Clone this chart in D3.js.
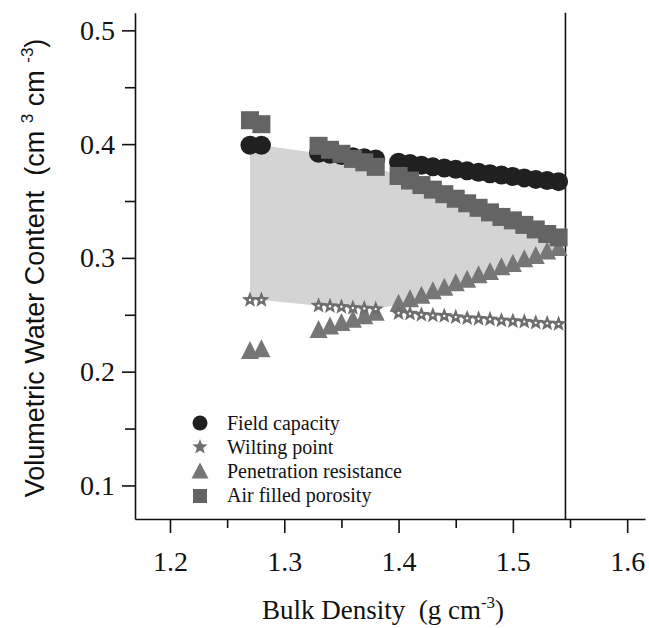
<!DOCTYPE html>
<html><head><meta charset="utf-8">
<script src="https://cdn.jsdelivr.net/npm/d3@7"></script>
<style>body{margin:0;background:#fff} text{white-space:pre}</style>
</head><body><svg id="c" width="649" height="628"></svg>
<script>
// ---- data ----
const bulkDensity = [1.27,1.28, 1.33,1.34,1.35,1.36,1.37,1.38, 1.40,1.41,1.42,1.43,1.44,1.45,1.46,1.47,1.48,1.49,1.50,1.51,1.52,1.53,1.54];
const fieldCapacity = [0.399,0.399, 0.392,0.391,0.390,0.389,0.388,0.387, 0.384,0.383,0.3815,0.380,0.379,0.3778,0.3765,0.3752,0.374,0.3728,0.3715,0.3703,0.369,0.368,0.367];
const wiltingPoint = [0.263,0.263, 0.258,0.2575,0.257,0.256,0.2555,0.255, 0.2515,0.251,0.250,0.2495,0.249,0.248,0.247,0.2465,0.246,0.245,0.2445,0.244,0.243,0.2425,0.242];
const penetrationResistance = [0.2175,0.219, 0.236,0.239,0.242,0.245,0.248,0.251, 0.259,0.263,0.266,0.270,0.273,0.277,0.280,0.284,0.287,0.291,0.294,0.298,0.301,0.305,0.308];
const airFilledPorosity = [0.421,0.4175, 0.3985,0.395,0.3915,0.387,0.384,0.380, 0.372,0.368,0.364,0.360,0.356,0.352,0.348,0.344,0.340,0.336,0.333,0.329,0.325,0.321,0.318];
const maxBulkDensity = 1.546;
const xTicks = [1.2,1.3,1.4,1.5,1.6];
const xMinorTicks = [1.25,1.35,1.45,1.55];
const yTicks = [0.1,0.2,0.3,0.4,0.5];
const yMinorTicks = [0.15,0.25,0.35,0.45];
const legendLabels = ["Field capacity","Wilting point","Penetration resistance","Air filled porosity"];

// ---- layout ----
const svg = d3.select("#c");
const x = d3.scaleLinear().domain([1.1694, 1.6156]).range([135, 645]);
const y = d3.scaleLinear().domain([0.0705, 0.5155]).range([519, 12.7]);
const serif = "'Liberation Serif','Times New Roman',serif";
const sans = "'Liberation Sans',Arial,sans-serif";

const rows = bulkDensity.map((b,i)=>({b, fc:fieldCapacity[i], wp:wiltingPoint[i], pr:penetrationResistance[i], afp:airFilledPorosity[i]}));

// shaded range
const area = d3.area()
  .x(d=>x(d.b))
  .y0(d=>y(Math.max(d.wp,d.pr)))
  .y1(d=>y(Math.min(d.fc,d.afp)));
svg.append("path").datum(rows).attr("d",area).attr("fill","#d4d4d4");

// axes
const gx = svg.append("g").attr("transform","translate(0,519)");
gx.call(d3.axisBottom(x).tickValues(xTicks).tickSize(14).tickSizeOuter(0).tickPadding(18).tickFormat(d3.format(".1f")));
gx.append("g").call(d3.axisBottom(x).tickValues(xMinorTicks).tickSize(9).tickSizeOuter(0).tickFormat(""))
  .select(".domain").remove();
const gy = svg.append("g").attr("transform","translate(135,0)");
gy.call(d3.axisLeft(y).tickValues(yTicks).tickSize(13).tickSizeOuter(0).tickPadding(7).tickFormat(d3.format(".1f")));
gy.append("g").call(d3.axisLeft(y).tickValues(yMinorTicks).tickSize(10).tickSizeOuter(0).tickFormat(""))
  .select(".domain").remove();
svg.selectAll(".domain, .tick line").attr("stroke","#111").attr("stroke-width",1.6);
svg.selectAll(".tick text").attr("font-family",serif).attr("font-size",28).attr("fill","#111");

// vertical line at max bulk density
svg.append("line").attr("x1",x(maxBulkDensity)).attr("x2",x(maxBulkDensity))
  .attr("y1",y.range()[1]).attr("y2",y.range()[0]).attr("stroke","#111").attr("stroke-width",1.6);

// marker shapes
function starPath(cx, cy, R, r){
  const pts=[];
  for(let k=0;k<10;k++){
    const a = -Math.PI/2 + k*Math.PI/5;
    const rad = k%2===0?R:r;
    pts.push([cx+rad*Math.cos(a), cy+rad*Math.sin(a)]);
  }
  return "M"+pts.map(p=>p.join(",")).join("L")+"Z";
}
function triPath(cx, cy, w, h){
  return `M${cx},${cy-h*0.6}L${cx+w/2},${cy+h*0.4}L${cx-w/2},${cy+h*0.4}Z`;
}

const colFC="#202020", colWP="#6e6e6e", colPR="#767676", colAFP="#646464";

// triangles
svg.append("g").selectAll("path").data(rows).join("path")
  .attr("d",d=>triPath(x(d.b), y(d.pr), 18, 18)).attr("fill",colPR);
// stars
const sg = svg.append("g");
rows.forEach(d=>{
  sg.append("path").attr("d",starPath(x(d.b), y(d.wp), 8.5, 3.6)).attr("fill",colWP);
  sg.append("circle").attr("cx",x(d.b)).attr("cy",y(d.wp)).attr("r",1.2).attr("fill","#fff");
});
// circles
svg.append("g").selectAll("circle").data(rows).join("circle")
  .attr("cx",d=>x(d.b)).attr("cy",d=>y(d.fc)).attr("r",9.5).attr("fill",colFC);
// squares
svg.append("g").selectAll("rect").data(rows).join("rect")
  .attr("x",d=>x(d.b)-9).attr("y",d=>y(d.afp)-9).attr("width",18).attr("height",18).attr("fill",colAFP);

// legend
const lg = svg.append("g");
const ly = [430,454,478,502];
lg.append("circle").attr("cx",200).attr("cy",ly[0]-7).attr("r",7.5).attr("fill",colFC);
lg.append("path").attr("d",starPath(200, ly[1]-7, 8, 3.4)).attr("fill",colWP);
lg.append("path").attr("d",triPath(200, ly[2]-6, 17, 16)).attr("fill",colPR);
lg.append("rect").attr("x",193).attr("y",ly[3]-13).attr("width",14).attr("height",14).attr("fill",colAFP);
legendLabels.forEach((t,i)=>{
  lg.append("text").attr("x",227).attr("y",ly[i]).attr("font-family",serif).attr("font-size",20).attr("fill","#111").text(t);
});

// axis titles
const xt = svg.append("text").attr("x",383).attr("y",619).attr("text-anchor","middle")
  .attr("font-family",serif).attr("font-size",27).attr("fill","#111");
xt.append("tspan").text("Bulk Density  (g cm");
xt.append("tspan").attr("font-size",17).attr("dy",-11).text("-3");
xt.append("tspan").attr("dy",11).text(")");

const yt = svg.append("text").attr("transform","translate(44,268) rotate(-90)").attr("text-anchor","middle")
  .attr("font-family",sans).attr("font-size",27).attr("fill","#111");
yt.append("tspan").text("Volumetric Water Content  (cm ");
yt.append("tspan").attr("font-size",17).attr("dy",-11).text("3");
yt.append("tspan").attr("dy",11).text(" cm ");
yt.append("tspan").attr("font-size",17).attr("dy",-11).text("-3");
yt.append("tspan").attr("dy",11).text(")");
</script>
</body></html>
